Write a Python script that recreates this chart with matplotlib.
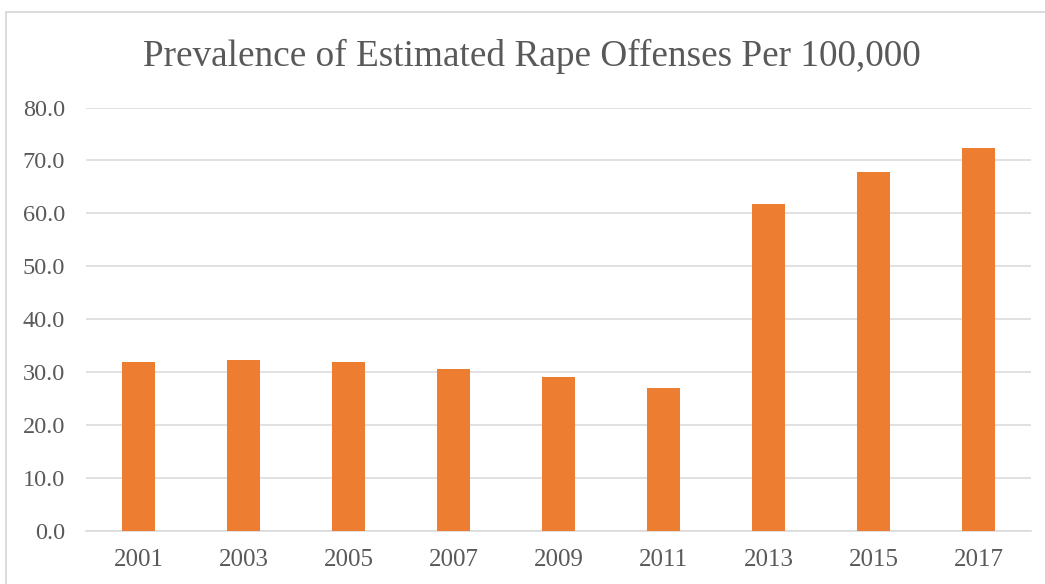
import matplotlib.pyplot as plt
from matplotlib.patches import Rectangle

# ── Data ──────────────────────────────────
years = ["2001", "2003", "2005", "2007", "2009", "2011", "2013", "2015", "2017"]
rate_per_100k = [31.8, 32.3, 31.8, 30.5, 29.0, 27.0, 61.8, 67.8, 72.3]
y_ticks = [0, 10, 20, 30, 40, 50, 60, 70, 80]

# ── Style ─────────────────────────────────
BAR_COLOR = "#ED7D31"
GRID_COLOR = "#D9D9D9"
TEXT_COLOR = "#595959"
plt.rcParams["font.family"] = ["Liberation Serif", "DejaVu Serif"]

fig = plt.figure(figsize=(10.45, 5.84), dpi=100)
ax = fig.add_axes([86 / 1045, 1 - 530.7 / 584, 945 / 1045, (530.7 - 107.5) / 584])

x = range(len(years))
ax.bar(x, rate_per_100k, width=0.31, color=BAR_COLOR, zorder=3)

ax.set_xlim(-0.5, len(years) - 0.5)
ax.set_ylim(0, 80)
ax.set_yticks(y_ticks)
ax.set_yticklabels([f"{v:.1f}" for v in y_ticks])
ax.set_xticks(list(x))
ax.set_xticklabels(years)

ax.grid(axis="y", color=GRID_COLOR, linewidth=1.1, zorder=0)
for side in ["top", "right", "left"]:
    ax.spines[side].set_visible(False)
ax.spines["bottom"].set_color(GRID_COLOR)
ax.spines["bottom"].set_linewidth(1.1)

ax.tick_params(axis="y", length=0, pad=15, labelsize=17.5, labelcolor=TEXT_COLOR)
ax.tick_params(axis="x", length=0, pad=13.5, labelsize=18, labelcolor=TEXT_COLOR)

fig.text(532 / 1045, 1 - 56 / 584, "Prevalence of Estimated Rape Offenses Per 100,000",
         ha="center", va="center", fontsize=26.8, color=TEXT_COLOR)

# chart border
fig.patches.append(Rectangle((6 / 1045, -0.1), 1.1, 1 - 12 / 584 + 0.1,
                             transform=fig.transFigure, fill=False,
                             edgecolor=GRID_COLOR, linewidth=1.3))

fig.savefig("out.png", dpi=100)
